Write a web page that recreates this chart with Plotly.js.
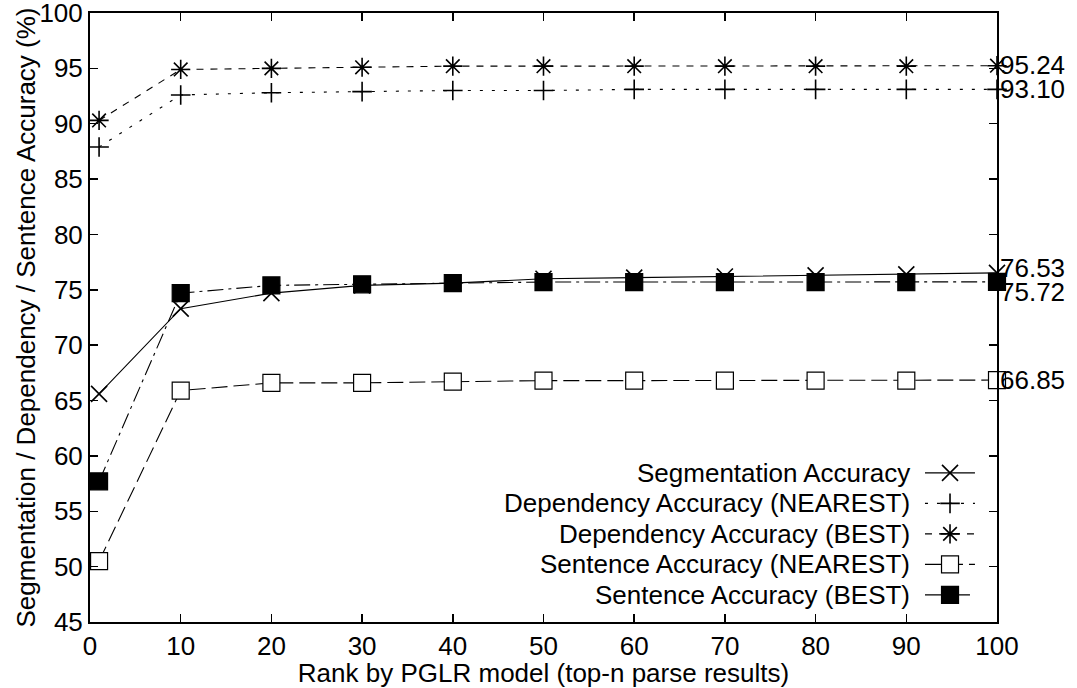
<!DOCTYPE html>
<html><head><meta charset="utf-8">
<script src="https://cdn.plot.ly/plotly-3.0.1.min.js"></script>
<style>html,body{margin:0;padding:0;background:#fff}#chart{width:1077px;height:688px}</style>
</head><body><div id="chart"></div>
<script>
// ---- data ----
const rank = [1, 10, 20, 30, 40, 50, 60, 70, 80, 90, 100];
const segmentationAcc = [65.6, 73.3, 74.7, 75.4, 75.6, 76.0, 76.1, 76.2, 76.3, 76.4, 76.53];
const depNearestAcc   = [87.9, 92.6, 92.8, 92.9, 93.0, 93.0, 93.1, 93.1, 93.1, 93.1, 93.10];
const depBestAcc      = [90.3, 94.9, 95.0, 95.1, 95.2, 95.2, 95.2, 95.2, 95.2, 95.2, 95.24];
const sentNearestAcc  = [50.5, 65.9, 66.6, 66.6, 66.7, 66.8, 66.8, 66.8, 66.8, 66.8, 66.85];
const sentBestAcc     = [57.7, 74.7, 75.4, 75.5, 75.6, 75.7, 75.7, 75.7, 75.7, 75.7, 75.72];
const yTicks = [45, 50, 55, 60, 65, 70, 75, 80, 85, 90, 95, 100];
const xTicks = [0, 10, 20, 30, 40, 50, 60, 70, 80, 90, 100];
const seriesNames = ["Segmentation Accuracy", "Dependency Accuracy (NEAREST)", "Dependency Accuracy (BEST)",
                     "Sentence Accuracy (NEAREST)", "Sentence Accuracy (BEST)"];
const xTitle = "Rank by PGLR model (top-n parse results)";
const yTitle = "Segmentation / Dependency / Sentence Accuracy (%)";

// ---- styles ----
const FONT = "Liberation Sans, Arial, Helvetica, sans-serif";
const FS = 26;
const seriesValues = [segmentationAcc, depNearestAcc, depBestAcc, sentNearestAcc, sentBestAcc];
const styles = [
  {dash: "solid",             symbol: "x-thin-open",     size: 16, fill: "#000", lw: 1.6},
  {dash: "3px,9px",           symbol: "cross-thin-open", size: 14, fill: "#000", lw: 1.6},
  {dash: "7px,7px",           symbol: "asterisk-open",   size: 16, fill: "#000", lw: 1.6},
  {dash: "16px,6px",          symbol: "square",          size: 17, fill: "#fff", lw: 1.2},
  {dash: "16px,5px,3px,5px",  symbol: "square",          size: 17, fill: "#000", lw: 1.2}
];
const labelShift = [5, 0, 1, 0, -10];

const traces = [];
seriesValues.forEach((vals, i) => {
  const s = styles[i];
  traces.push({
    x: rank, y: vals, name: seriesNames[i], type: "scatter", mode: "lines+markers",
    line: {color: "#000", width: 1.1, dash: s.dash},
    marker: {symbol: s.symbol, size: s.size, color: s.fill, line: {color: "#000", width: s.lw}},
    showlegend: false, cliponaxis: false, hoverinfo: "x+y+name"
  });
});

// manual legend (gnuplot style: text right, sample on the right)
const legTop = 0.2449, legStep = 0.0501, sx0 = 0.9206, sxm = 0.9482, sx1 = 0.9757, textRight = 0.906;
const annotations = [];
seriesNames.forEach((nm, i) => {
  const s = styles[i];
  const yy = legTop - i * legStep;
  traces.push({x: [sx0, sx1], y: [yy, yy], xaxis: "x2", yaxis: "y2", mode: "lines",
    line: {color: "#000", width: 1.1, dash: s.dash}, showlegend: false, hoverinfo: "skip"});
  traces.push({x: [sxm], y: [yy], xaxis: "x2", yaxis: "y2", mode: "markers",
    marker: {symbol: s.symbol, size: s.size, color: s.fill, line: {color: "#000", width: s.lw}},
    showlegend: false, hoverinfo: "skip"});
  annotations.push({xref: "paper", yref: "paper", x: textRight, y: yy, xanchor: "right", yanchor: "middle",
    text: nm, showarrow: false, font: {family: FONT, size: FS, color: "#000"}});
});
// end-value labels
seriesValues.forEach((vals, i) => {
  const last = vals[vals.length - 1];
  annotations.push({xref: "x", yref: "y", x: rank[rank.length - 1], y: last, xanchor: "left", yanchor: "middle",
    xshift: 1, yshift: labelShift[i], text: last.toFixed(2), showarrow: false,
    font: {family: FONT, size: FS, color: "#000"}});
});
// y-axis title (placed as rotated text, as in the reference)
annotations.push({xref: "paper", yref: "paper", x: 0, y: 0.5, xshift: -65, xanchor: "center", yanchor: "middle",
  textangle: -90, text: yTitle, showarrow: false, font: {family: FONT, size: FS, color: "#000"}});

const axisCommon = {
  showgrid: false, zeroline: false, showline: true, linecolor: "#000", linewidth: 2,
  mirror: "ticks", ticks: "inside", ticklen: 8, tickwidth: 1.5, tickcolor: "#000",
  tickfont: {family: FONT, size: FS, color: "#000"}, automargin: false, ticklabeloverflow: "allow"
};

const layout = {
  width: 1077, height: 688,
  margin: {l: 90, r: 80, t: 13, b: 66, pad: 0},
  paper_bgcolor: "#fff", plot_bgcolor: "#fff",
  font: {family: FONT, size: FS, color: "#000"},
  xaxis: Object.assign({}, axisCommon, {range: [0, 100], tickmode: "array", tickvals: xTicks,
    ticktext: xTicks.map(String),
    title: {text: xTitle, font: {family: FONT, size: FS, color: "#000"}, standoff: 0}}),
  yaxis: Object.assign({}, axisCommon, {range: [45, 100], tickmode: "array", tickvals: yTicks,
    ticktext: yTicks.map(String)}),
  xaxis2: {overlaying: "x", anchor: "y2", range: [0, 1], visible: false, fixedrange: true},
  yaxis2: {overlaying: "y", anchor: "x2", range: [0, 1], visible: false, fixedrange: true},
  annotations: annotations,
  showlegend: false
};

Plotly.newPlot("chart", traces, layout, {displayModeBar: false, staticPlot: true});
</script>
</body></html>
